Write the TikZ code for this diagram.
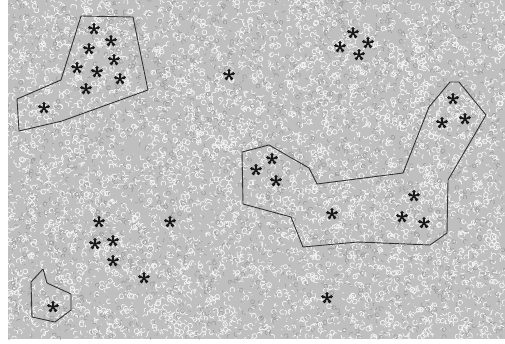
\documentclass[tikz,border=0pt]{standalone}
\usepackage{tikz}

\tikzset{
  wormlight/.style={white!95!black,line width=.75pt,line cap=round},
  wormdark/.style={black!38,line width=.6pt,line cap=round},
  region/.style={black!80,line width=.9pt,line join=round},
  asterisk/.pic={
    \foreach \a in {270,342,54,126,198}{
      \draw[black!90,line width=1.7pt,line cap=round] (0,0) -- (\a:4.2);
      \fill[black!90] (\a:4.4) circle (1.8);
    }}
}

\begin{document}
\begin{tikzpicture}[x=1pt,y=-1pt]
\path[use as bounding box] (0,0) rectangle (505,344);
\fill[white] (0,0) rectangle (505,344);
% textured field
\fill[black!25] (8,0) rectangle (505,339);
\begin{scope}
\clip (8,0) rectangle (505,339);
\pgfmathsetseed{11}
\foreach \k in {1,...,13}{
  \draw[wormlight] \foreach \i in {1,...,500}{
    ({8+497*rnd},{339*rnd}) arc[start angle={360*rnd},delta angle=90,radius=2.4]};
}
\foreach \k in {1,...,5}{
  \draw[wormdark] \foreach \i in {1,...,500}{
    ({8+497*rnd},{339*rnd}) arc[start angle={360*rnd},delta angle=90,radius=2]};
}
\end{scope}
% regions
\draw[region] (81,16) -- (133,17) -- (148,90) -- (62,121) -- (19,131) -- (17,99) -- (61,80) -- cycle;
\draw[region] (242,152) -- (269,145) -- (309,168) -- (317,184) -- (403,173) -- (429,107) -- (450,82) -- (459,82) -- (486,115) -- (448,180) -- (447,233) -- (430,245) -- (358,242) -- (303,247) -- (291,217) -- (243,204) -- cycle;
\draw[region] (43,269) -- (47,283) -- (71,294) -- (71,310) -- (55,322) -- (32,317) -- (31,282) -- cycle;
% objects
\foreach \p in {(94,29),(111,41),(89,49),(114,60),(77,68),(97,72),(120,79),(86,89),(44,108)}
  \pic at \p {asterisk};
\pic at (229,75) {asterisk};
\foreach \p in {(353,33),(368,43),(340,47),(359,55)}
  \pic at \p {asterisk};
\foreach \p in {(453,99),(442,123),(465,119),(272,159),(256,170),(276,181),(332,214),(414,196),(402,217),(424,223)}
  \pic at \p {asterisk};
\foreach \p in {(99,222),(170,222),(95,244),(113,241),(113,261),(144,278),(53,307),(327,298)}
  \pic at \p {asterisk};
\end{tikzpicture}
\end{document}
